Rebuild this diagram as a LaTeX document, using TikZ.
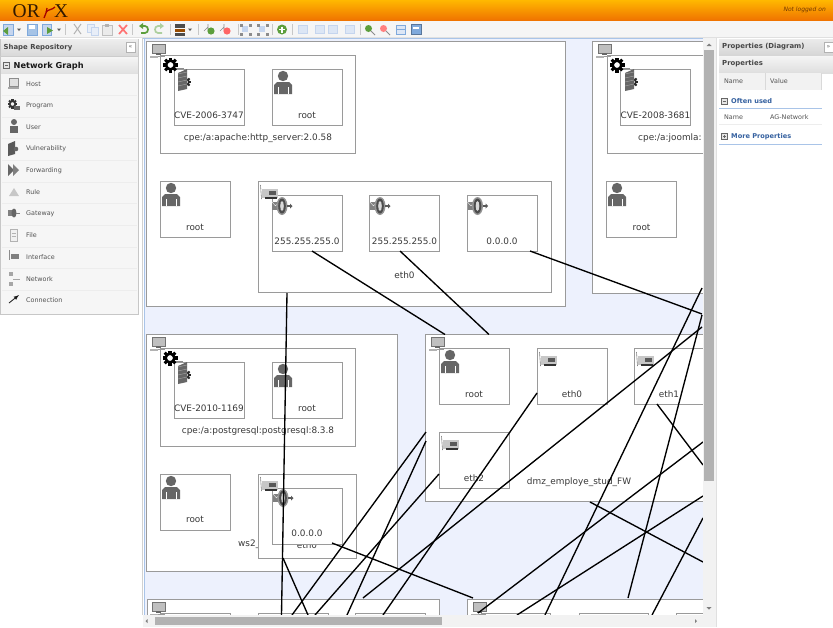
\documentclass[tikz,border=0pt]{standalone}
\usepackage{fontspec}
\setmainfont{DejaVu Sans}
\newfontfamily\logofont{Liberation Serif}
\definecolor{boxline}{HTML}{9A9A9A}
\definecolor{icongrey}{HTML}{666666}
\definecolor{canvasblue}{HTML}{EDF1FD}
\definecolor{panelgrey}{HTML}{F6F6F6}
\definecolor{headgrey}{HTML}{DEDEDE}
\definecolor{linkblue}{HTML}{34609F}
\definecolor{rulerblue}{HTML}{A9C4E8}
\definecolor{bartop}{HTML}{FFB800}
\definecolor{barbot}{HTML}{F07400}
\definecolor{tbblue}{HTML}{7FA9DC}
\definecolor{tbpale}{HTML}{C5D5EE}
\definecolor{tbgreen}{HTML}{5C9E3C}
\tikzset{
  shapebox/.style={draw=boxline,line width=0.9pt,fill=white},
  smallbox/.style={shapebox,minimum width=70pt,minimum height=56pt,inner sep=0pt},
  lbl/.style={font=\fontsize{8.9}{10}\selectfont,text=black!78,inner sep=0pt},
  pal/.style={font=\fontsize{6.4}{8}\selectfont,text=black!68,inner sep=0pt,anchor=west},
  head/.style={font=\bfseries\fontsize{6.9}{9}\selectfont,text=black!72,inner sep=0pt,anchor=west},
  cn/.style={draw=black,line width=1.35pt},
  sep/.style={draw=black!22,line width=0.6pt},
  tri/.style={fill=black!65}
}
\newcommand{\usericon}[2]{%
  \fill[icongrey] (#1+9,#2+7) circle (5.2);
  \fill[icongrey] (#1,#2+25) -- (#1,#2+16) -- (#1+3,#2+13) -- (#1+15,#2+13) -- (#1+18,#2+16) -- (#1+18,#2+25) -- cycle;
  \draw[white,line width=0.4pt] (#1+4,#2+18) -- (#1+4,#2+25) (#1+14,#2+18) -- (#1+14,#2+25);}
\newcommand{\hosticon}[2]{%
  \draw[fill=black!25,draw=black!55,line width=0.5pt] (#1+2,#2) rectangle (#1+15,#2+9);
  \fill[black!60] (#1+6,#2+9) rectangle (#1+11,#2+10.5);
  \fill[black!30] (#1,#2+12) rectangle (#1+8,#2+14);
  \draw[black!40,line width=0.4pt] (#1+8,#2+12.5) -- (#1+15,#2+12.5);}
% x, y, colour, radius
\newcommand{\gearicon}[4]{%
  \foreach \a in {0,45,...,315}{\draw[#3,line width=#4*0.42pt] (#1,#2) ++(\a:#4*0.6) -- ++(\a:#4*0.4);}
  \draw[#3,line width=#4*0.34pt] (#1,#2) circle (#4*0.58);}
\newcommand{\wallicon}[2]{%
  \gearicon{#1+8}{#2+13}{black!85}{5}
  \fill[icongrey] (#1,#2+4) -- (#1+9,#2) -- (#1+9,#2+20) -- (#1,#2+22) -- cycle;
  \foreach \d in {5,9,13,17}{\draw[black!35,line width=0.4pt] (#1,#2+\d) -- (#1+9,#2+\d-2);}}
\newcommand{\progicon}[2]{%
  \draw[black!45,line width=0.9pt] (#1+5,#2+3) -- (#1+13,#2+3);
  \gearicon{#1}{#2}{black}{7.5}}
\newcommand{\nicicon}[2]{%
  \draw[black!50,line width=0.6pt] (#1+0.5,#2) -- (#1+1.5,#2+14);
  \fill[black!22] (#1+2,#2+4) rectangle (#1+18,#2+13);
  \fill[black!65] (#1+9,#2+6) rectangle (#1+16,#2+10);
  \fill[black!80] (#1+5,#2+12) rectangle (#1+17,#2+14);}
\newcommand{\gwicon}[2]{%
  \fill[black!50] (#1,#2+5) rectangle (#1+7,#2+13);
  \draw[white,line width=0.3pt] (#1,#2+5) -- (#1+3.5,#2+9) -- (#1+7,#2+5);
  \fill[black!42] (#1+10,#2+9) ellipse (5.5 and 9);
  \fill[black!70] (#1+10,#2+9) ellipse (3.8 and 7.5);
  \fill[black!15] (#1+10,#2+9) ellipse (1.8 and 5);
  \fill[black!65] (#1+15,#2+8) rectangle (#1+18,#2+10);
  \fill[black!65] (#1+18,#2+6.5) -- (#1+20.5,#2+9) -- (#1+18,#2+11.5) -- cycle;}
\newcommand{\droptri}[1]{\fill[tri] (#1,28.5) -- (#1+4,28.5) -- (#1+2,31) -- cycle;}
\begin{document}
\begin{tikzpicture}[x=1pt,y=-1pt]
\useasboundingbox (0,0) rectangle (833,627);
\fill[white] (0,0) rectangle (833,627);
% title bar
\shade[top color=bartop,bottom color=barbot] (0,0) rectangle (833,20);
\node[inner sep=0pt,anchor=base west,font=\logofont\fontsize{19.5}{20}\selectfont,text=black!80!orange] (logoa) at (12.5,17.5) {OR};
\node[inner sep=0pt,anchor=base west,font=\logofont\fontsize{19.5}{20}\selectfont,text=black!80!orange] (logob) at (54,17.5) {X};
\draw[red!65!black,line width=1.3pt] (44,18) .. controls (46,13) and (47,11) .. (47,8);
\draw[red!65!black,line width=1.3pt] (46,12) .. controls (49,9) and (52,10) .. (55,7);
\node[inner sep=0pt,anchor=east,font=\itshape\fontsize{6}{8}\selectfont,text=black!55!orange] (logon) at (826,10) {Not logged on};
% toolbar
\fill[black!4] (0,21) rectangle (833,37);
\draw[black!12] (0,37.5) -- (833,37.5);
\foreach \x in {65,132,170,198,238,272,292,360}{\draw[sep] (\x,24) -- (\x,35);}
\foreach \x in {17,57,188}{\droptri{\x}}
\draw[tbblue,fill=tbpale,line width=0.6pt] (3,24) rectangle (13,35);
\fill[tbgreen] (3,31) -- (8,27) -- (8,35) -- cycle;
\draw[tbblue,fill=tbblue!70,line width=0.6pt] (27,24) rectangle (37,35);
\fill[white] (29,25) rectangle (35,29);
\draw[tbblue,fill=tbpale,line width=0.6pt] (42,24) rectangle (51,35);
\fill[tbgreen] (47,27) -- (53,30.5) -- (47,34) -- cycle;
\draw[black!30,line width=1pt] (74,34) -- (81,24) (81,34) -- (74,24);
\draw[tbpale,fill=tbpale!40,line width=0.7pt] (87,24) rectangle (94,32);
\draw[tbpale,fill=tbpale!40,line width=0.7pt] (91,27) rectangle (98,35);
\draw[black!25,fill=black!8,line width=0.7pt] (102,25) rectangle (112,35);
\fill[black!30] (105,24) rectangle (109,27);
\draw[red!55,line width=1.7pt] (119,25) -- (127,34) (127,25) -- (119,34);
\draw[tbgreen,line width=1.7pt] (143,26) -- (145,26) .. controls (149,26) and (149,33) .. (145,33) -- (141,33);
\fill[tbgreen] (143,23) -- (143,29) -- (139,26) -- cycle;
\draw[tbgreen!50,line width=1.7pt] (160,26) -- (158,26) .. controls (154,26) and (154,33) .. (158,33) -- (162,33);
\fill[tbgreen!50] (160,23) -- (160,29) -- (164,26) -- cycle;
\fill[black!70] (175,24) rectangle (185,28);
\fill[orange!60!black] (175,29) rectangle (185,32);
\fill[black!70] (175,33) rectangle (185,36);
\foreach \x/\c in {204/tbgreen,220/red!60}{
  \draw[black!45,line width=0.6pt] (\x+4,24) -- (\x+4,30) (\x+4,27) -- (\x,31);
  \fill[\c] (\x+7,31) circle (3.6);}
\foreach \x in {240,257}{
  \fill[tbpale] (\x+2,26) rectangle (\x+8,32);
  \foreach \u/\v in {0/0,9/0,0/9,9/9}{\fill[black!45] (\x+\u,24+\v) rectangle (\x+\u+2.5,26.5+\v);}}
\fill[tbgreen] (282,29.5) circle (5);
\draw[white,line width=1.1pt] (279,29.5) -- (285,29.5) (282,26.5) -- (282,32.5);
\foreach \x in {298,315,328,345}{\draw[tbpale,fill=tbpale!60,line width=0.5pt] (\x,25) rectangle (\x+9,33);}
\fill[tbgreen] (368.5,28.5) circle (3.5);
\draw[black!45,line width=1pt] (371,31) -- (375,35);
\fill[red!50] (383.5,28.5) circle (3.5);
\draw[black!45,line width=1pt] (386,31) -- (390,35);
\draw[tbblue,fill=tbpale!60,line width=0.5pt] (396,25) rectangle (405,34);
\draw[tbblue,line width=0.5pt] (396,29.5) -- (405,29.5);
\draw[tbblue!70!black,fill=tbblue,line width=0.6pt] (411,24.5) rectangle (421,34.5);
\fill[white] (413,27) rectangle (419,29);
% left panel
\draw[black!22,fill=panelgrey] (0.5,39) rectangle (138.5,314);
\shade[top color=black!7,bottom color=black!15] (1,39.5) rectangle (138,56);
\draw[black!20] (0,56.5) -- (139,56.5);
\shade[top color=black!4,bottom color=black!12] (1,57) rectangle (138,73);
\node[head] (repo) at (3.5,47.5) {Shape Repository};
\draw[black!30,fill=white] (126,42) rectangle (135,52);
\node[inner sep=0pt,font=\fontsize{6}{6}\selectfont,text=black!60] (col1) at (130.5,46.5) {«};
\draw[black!60,fill=black!10] (3.5,62.5) rectangle (9.5,68.5);
\draw[black!60,line width=0.5pt] (5,65.5) -- (8,65.5);
\node[inner sep=0pt,anchor=west,font=\bfseries\fontsize{8.2}{10}\selectfont,text=black!90] (ng) at (13.5,66.5) {Network Graph};
\foreach \y in {95,117,138,160,182,203,225,247,268,290}{\draw[black!7] (2,\y) -- (137,\y);}
\node[pal] (p1) at (26,84.5) {Host};
\node[pal] (p2) at (26,106) {Program};
\node[pal] (p3) at (26,127.5) {User};
\node[pal] (p4) at (26,149) {Vulnerability};
\node[pal] (p5) at (26,171) {Forwarding};
\node[pal] (p6) at (26,192.5) {Rule};
\node[pal] (p7) at (26,214) {Gateway};
\node[pal] (p8) at (26,235.5) {File};
\node[pal] (p9) at (26,257) {Interface};
\node[pal] (p10) at (26,279) {Network};
\node[pal] (p11) at (26,300.5) {Connection};
\draw[black!45,fill=black!12] (9,78) rectangle (18,86);
\fill[black!35] (8,87) rectangle (19,89);
\gearicon{12.5}{104}{black!80}{4.8}
\fill[black!60] (14,106) rectangle (20,110);
\fill[black!60] (14,122) circle (3);
\fill[black!60] (10,133) rectangle (18,125.5);
\fill[black!65] (8,144) -- (15,141) -- (15,154) -- (8,156) -- cycle;
\fill[black!60] (16,149) circle (2.3);
\fill[black!60] (8,164) -- (14,170) -- (8,176) -- cycle;
\fill[black!50] (13,164) -- (19,170) -- (13,176) -- cycle;
\fill[black!22] (9,196) -- (14,188) -- (19,196) -- cycle;
\fill[black!50] (8,210) rectangle (13,216);
\fill[black!60] (14,213) ellipse (2.5 and 4.5);
\fill[black!50] (16,212.5) rectangle (20,213.5);
\draw[black!30,fill=black!6] (10,229) rectangle (17,241);
\draw[black!30] (11.5,233) -- (15.5,233) (11.5,236) -- (15.5,236);
\draw[black!45] (9,250) -- (9,260);
\fill[black!50] (11,254) rectangle (19,259);
\fill[black!35] (9,272) rectangle (13,276);
\fill[black!35] (9,282) rectangle (13,286);
\draw[black!35] (13,279) -- (20,279);
\draw[black!90,line width=0.8pt,-latex] (9,303) -- (19,295);
% canvas
\fill[canvasblue] (144,38) rectangle (703,615);
\draw[black!18,line width=0.5pt] (142.5,38) -- (142.5,615);
\draw[rulerblue,line width=1.6pt] (144.3,38) -- (144.3,615);
\draw[rulerblue,line width=1pt] (143,38.5) -- (703,38.5);
% containers
\node[shapebox,minimum width=418.5pt,minimum height=264.5pt,inner sep=0pt] (host1) at (355.75,173.75) {};
\draw[shapebox] (592.5,41.5) -- (703,41.5) -- (703,293) -- (592.5,293) -- cycle;
\node[shapebox,minimum width=251pt,minimum height=237pt,inner sep=0pt] (host3) at (272,453) {};
\draw[shapebox] (703,334.5) -- (425.5,334.5) -- (425.5,501.5) -- (703,501.5);
\draw[shapebox] (147,615) -- (147,599.5) -- (439.5,599.5) -- (439.5,615);
\draw[shapebox] (467,599.5) rectangle (703,616);
% host 1
\node[shapebox,minimum width=195pt,minimum height=98pt,inner sep=0pt] (h1prog) at (258,104.5) {};
\node[smallbox] (h1vuln) at (209,97.5) {};
\node[smallbox] (h1root) at (307,97.5) {};
\node[lbl] (t1a) at (209,115.5) {CVE-2006-3747};
\node[lbl] (t1b) at (307,115.5) {root};
\node[lbl] (t1c) at (258,138.5) {cpe:/a:apache:http\_server:2.0.58};
\node[smallbox] (h1r2) at (195,209) {};
\node[lbl] (t1d) at (195,227) {root};
\node[shapebox,minimum width=293pt,minimum height=111pt,inner sep=0pt] (h1eth) at (404.5,237) {};
\node[smallbox] (h1g1) at (307,223) {};
\node[smallbox] (h1g2) at (404.5,223) {};
\node[smallbox] (h1g3) at (502,223) {};
\node[lbl] (t1e) at (307,241) {255.255.255.0};
\node[lbl] (t1f) at (404.5,241) {255.255.255.0};
\node[lbl] (t1g) at (502,241) {0.0.0.0};
\node[lbl] (t1h) at (404.5,275) {eth0};
% host 2 (cut by scrollbar)
\draw[shapebox] (703,55.5) -- (607,55.5) -- (607,153.5) -- (703,153.5);
\node[smallbox] (h2vuln) at (655.5,97.5) {};
\node[lbl] (t2a) at (655.5,115.5) {CVE-2008-3681};
\node[lbl,anchor=west] (t2b) at (638,138.5) {cpe:/a:joomla:};
\node[smallbox] (h2r) at (641.5,209) {};
\node[lbl] (t2c) at (641.5,227) {root};
% host 3
\node[shapebox,minimum width=195pt,minimum height=98pt,inner sep=0pt] (h3prog) at (258,397.5) {};
\node[smallbox] (h3vuln) at (209,390.5) {};
\node[smallbox] (h3root) at (307,390.5) {};
\node[lbl] (t3a) at (209,408) {CVE-2010-1169};
\node[lbl] (t3b) at (307,408) {root};
\node[lbl] (t3c) at (258,431.5) {cpe:/a:postgresql:postgresql:8.3.8};
\node[smallbox] (h3r2) at (195,502) {};
\node[lbl] (t3d) at (195,519.5) {root};
\node[lbl,anchor=west] (t3e) at (238,544.5) {ws2\_};
\node[shapebox,minimum width=98pt,minimum height=84pt,inner sep=0pt] (h3eth) at (307,516) {};
\node[lbl] (t3f) at (307,545) {eth0};
\node[smallbox] (h3g) at (307,516) {};
\node[lbl] (t3g) at (307,533.5) {0.0.0.0};
% firewall host
\node[smallbox] (fwroot) at (474,376) {};
\node[lbl] (t4a) at (474,394) {root};
\node[smallbox] (fweth0) at (572,376) {};
\node[lbl] (t4b) at (572,394) {eth0};
\draw[shapebox] (703,348.5) -- (634.5,348.5) -- (634.5,404) -- (703,404);
\node[lbl] (t4c) at (669,394) {eth1};
\node[smallbox] (fweth2) at (474,460) {};
\node[lbl] (t4d) at (474,478) {eth2};
\node[lbl] (t4e) at (579,482) {dmz\_employe\_stud\_FW};
% bottom stubs
\foreach \x/\w in {160/230,258/328,355/425,481/550,579/648,676/703}{\draw[shapebox] (\x,615) -- (\x,613) -- (\w,613) -- (\w,615);}
% icons
\hosticon{150}{44}\hosticon{596}{44}\hosticon{150}{337}\hosticon{429}{337}\hosticon{150}{602}\hosticon{471}{602}
\progicon{170.5}{65}\progicon{617}{65}\progicon{170}{358}
\wallicon{178}{69}\wallicon{625}{69}\wallicon{178}{362}
\usericon{274}{69}\usericon{162}{181}\usericon{608}{181}\usericon{274}{362}\usericon{162}{474}\usericon{441}{348}
\nicicon{260}{185}\nicicon{260}{477}\nicicon{539}{352}\nicicon{636}{352}\nicicon{441}{436}
\gwicon{272}{197}\gwicon{370}{197}\gwicon{467.5}{197}\gwicon{273}{489}
% free ends
\coordinate (a1) at (287,293); \coordinate (a2) at (281.5,615);
\coordinate (b1) at (312,251); \coordinate (b2) at (445,334.5);
\coordinate (c1) at (400,251); \coordinate (c2) at (489,334.5);
\coordinate (d1) at (530,251); \coordinate (d2) at (702,314);
\coordinate (e1) at (537,393); \coordinate (e2) at (383,615);
\coordinate (f1) at (702,327); \coordinate (f2) at (363,598);
\coordinate (g1) at (439,474); \coordinate (g2) at (315,615);
\coordinate (h1) at (426,432); \coordinate (h2) at (292,615);
\coordinate (i1) at (426,441); \coordinate (i2) at (347,615);
\coordinate (j1) at (702,288); \coordinate (j2) at (545,615);
\coordinate (k1) at (702,315); \coordinate (k2) at (628,598);
\coordinate (l1) at (703,442); \coordinate (l2) at (478,613);
\coordinate (m1) at (703,496); \coordinate (m2) at (517,615);
\coordinate (n1) at (703,518); \coordinate (n2) at (652,615);
\coordinate (o1) at (590,502); \coordinate (o2) at (703,562);
\coordinate (p1c) at (657,404); \coordinate (p2c) at (703,465);
\coordinate (q1) at (332,543); \coordinate (q2) at (473,598);
\coordinate (r1) at (283,558); \coordinate (r2) at (308,615);
\foreach \s/\t in {a1/a2,b1/b2,c1/c2,d1/d2,e1/e2,f1/f2,g1/g2,h1/h2,i1/i2,j1/j2,k1/k2,l1/l2,m1/m2,n1/n2,o1/o2,p1c/p2c,q1/q2,r1/r2}{\draw[cn] (\s) -- (\t);}
% scrollbars
\fill[black!5] (703,38) rectangle (716,615);
\fill[black!30] (704,50) rectangle (714,481);
\fill[black!5] (143,615) rectangle (716,627);
\fill[black!30] (155,617) rectangle (442,625);
\fill[black!50] (147.5,619) -- (147.5,623) -- (145.5,621) -- cycle;
\fill[black!50] (695,619) -- (695,623) -- (697,621) -- cycle;
\fill[black!50] (706.5,607) -- (711.5,607) -- (709,609.5) -- cycle;
\fill[black!50] (706.5,46) -- (711.5,46) -- (709,43.5) -- cycle;
\draw[black!12] (716.5,38) -- (716.5,627);
% right panel
\fill[white] (717,38) rectangle (833,627);
\shade[top color=black!8,bottom color=black!16] (719,39) rectangle (833,55);
\shade[top color=black!4,bottom color=black!13] (719,56) rectangle (833,73);
\fill[black!5] (719,73) rectangle (822,90);
\draw[black!15] (765,73) -- (765,90);
\draw[black!15] (821,73) -- (821,90);
\node[head] (ta) at (722,46.5) {Properties (Diagram)};
\node[head] (tb) at (722,64) {Properties};
\draw[black!30,fill=white] (824,42) rectangle (833,52);
\node[inner sep=0pt,font=\fontsize{6}{6}\selectfont,text=black!60] (col2) at (828.5,46.5) {»};
\node[pal] (pn) at (724,81.5) {Name};
\node[pal] (pv) at (770,81.5) {Value};
\draw[black!60,fill=black!10] (721.5,98.5) rectangle (727,104);
\draw[black!60,line width=0.4pt] (723,101.2) -- (725.5,101.2);
\node[inner sep=0pt,anchor=west,font=\bfseries\fontsize{6.6}{9}\selectfont,text=linkblue] (ou) at (731,101.5) {Often used};
\draw[rulerblue,line width=1pt] (719,108.5) -- (822,108.5);
\node[pal] (pn2) at (724,117) {Name};
\node[pal] (pv2) at (770,117) {AG-Network};
\draw[black!7] (719,124.5) -- (822,124.5);
\draw[black!60,fill=black!10] (721.5,133.5) rectangle (727,139);
\draw[black!60,line width=0.4pt] (723,136.2) -- (725.5,136.2) (724.2,134.8) -- (724.2,137.6);
\node[inner sep=0pt,anchor=west,font=\bfseries\fontsize{6.6}{9}\selectfont,text=linkblue] (mp) at (731,136.5) {More Properties};
\draw[rulerblue,line width=1pt] (719,144.5) -- (822,144.5);
\end{tikzpicture}
\end{document}
